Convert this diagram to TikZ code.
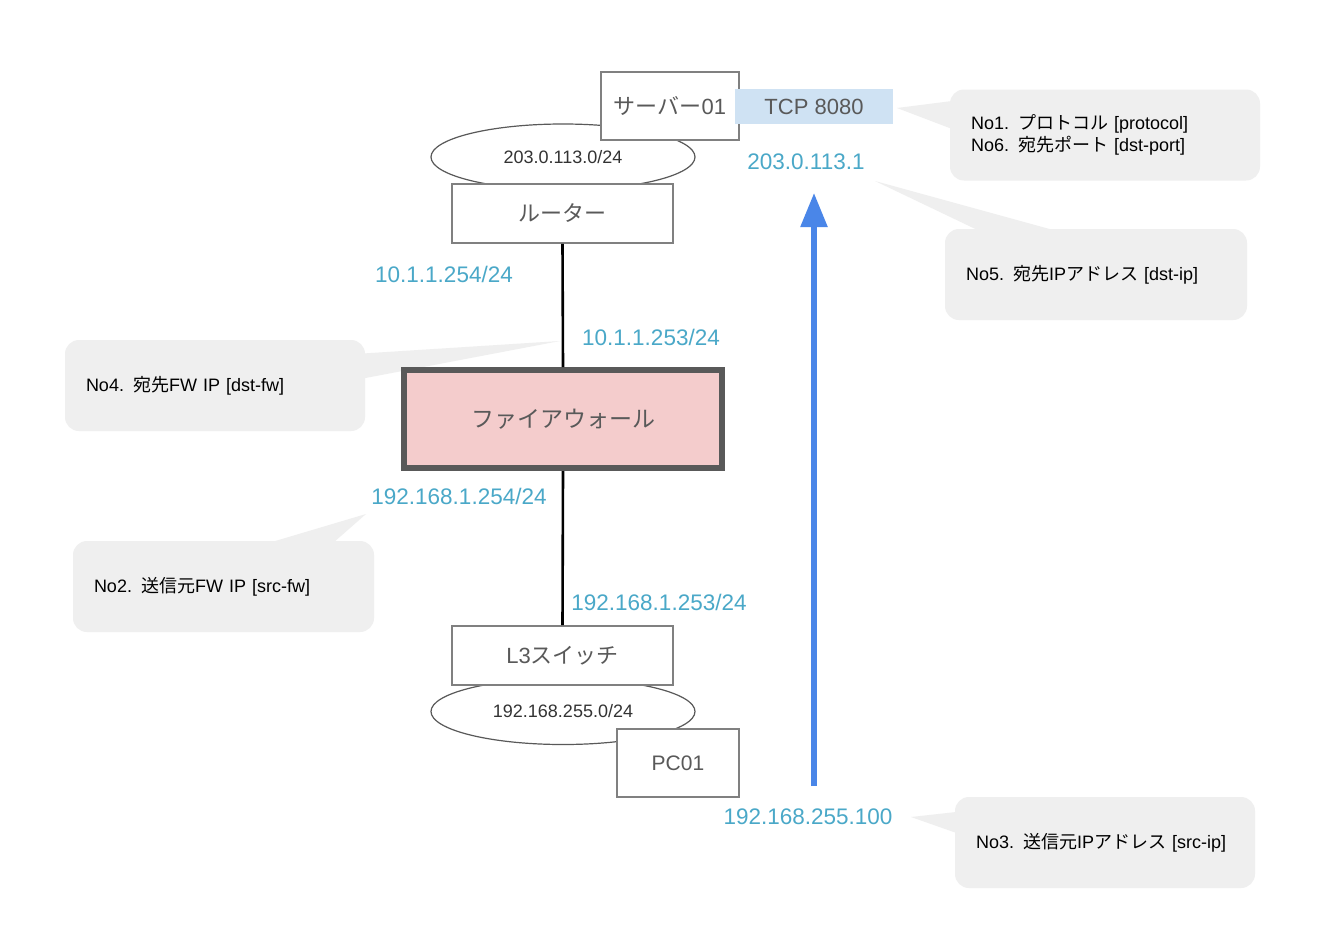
\documentclass[tikz,border=0pt]{standalone}
\usepackage{fontspec}
\setmainfont{Liberation Sans}
\newfontfamily\cjk{Noto Sans CJK JP}
\usetikzlibrary{arrows.meta,shapes.geometric}
\definecolor{lblue}{RGB}{74,168,200}
\definecolor{boxgray}{RGB}{128,128,128}
\definecolor{txtgray}{RGB}{89,89,89}
\definecolor{calgray}{RGB}{239,239,239}
\definecolor{tcpblue}{RGB}{207,226,243}
\definecolor{fwpink}{RGB}{244,204,204}
\definecolor{fwborder}{RGB}{89,89,89}
\definecolor{arrblue}{RGB}{74,134,232}
\begin{document}
\begin{tikzpicture}[x=1pt,y=-1pt,
  box/.style={draw=boxgray, line width=1.8pt, fill=white, inner sep=0pt, text=txtgray, font=\fontsize{22}{26}\selectfont},
  net/.style={ellipse, draw=txtgray, line width=1.2pt, fill=white, inner sep=0pt, minimum width=264pt, minimum height=66pt, text=black!80, font=\fontsize{18}{22}\selectfont},
  iplabel/.style={text=lblue, inner sep=0pt, font=\fontsize{22.5}{26}\selectfont},
  callout/.style={fill=calgray, rounded corners=14pt, inner xsep=21pt, inner ysep=0pt, align=left, minimum height=91pt, font=\fontsize{18}{22}\selectfont, text=black},
  tail/.style={fill=calgray},
  link/.style={draw=black, line width=2.6pt},
  flow/.style={draw=arrblue, line width=5.5pt, -{Triangle[width=26pt,length=34pt]}}]
\useasboundingbox (0,0) rectangle (1344,937);
\fill[white] (0,0) rectangle (1344,937);

% callout tails
\fill[tail] (897,108) -- (960,100) -- (960,132) -- cycle;
\fill[tail] (875,181) -- (990,236) -- (1075,236) -- cycle;
\fill[tail] (560,341) -- (355,354) -- (355,380) -- cycle;
\fill[tail] (366,514) -- (245,550) -- (325,550) -- cycle;
\fill[tail] (911,817) -- (965,811) -- (965,836) -- cycle;

% callouts
\node[callout, text width=268pt] (c1) at (1105,135) {No1. {\cjk プロトコル} [protocol]\\No6. {\cjk 宛先ポート} [dst-port]};
\node[callout, text width=260pt] (c5) at (1096,274.5) {No5. {\cjk 宛先}IP{\cjk アドレス} [dst-ip]};
\node[callout, text width=258pt] (c4) at (215,385.5) {No4. {\cjk 宛先}FW IP [dst-fw]};
\node[callout, text width=259pt] (c2) at (223.5,586.5) {No2. {\cjk 送信元}FW IP [src-fw]};
\node[callout, text width=258pt] (c3) at (1105,842.5) {No3. {\cjk 送信元}IP{\cjk アドレス} [src-ip]};

% top part
\node[net] (n1) at (563,157) {203.0.113.0/24};
\node[box, minimum width=138pt, minimum height=68pt] (srv) at (670,106) {{\cjk サーバー}01};
\node[fill=tcpblue, inner sep=0pt, minimum width=158pt, minimum height=35pt, text=txtgray, font=\fontsize{22}{26}\selectfont] (tcp) at (814,106.5) {TCP 8080};
\node[box, minimum width=221pt, minimum height=59pt] (rt) at (562.5,213.5) {\cjk ルーター};

% bottom part
\node[net] (n2) at (563,711.5) {192.168.255.0/24};
\node[box, minimum width=221pt, minimum height=59pt] (l3) at (562.5,655.5) {L3{\cjk スイッチ}};
\node[box, minimum width=122pt, minimum height=68pt, font=\fontsize{21}{25}\selectfont] (pc) at (678,763) {PC01};

% firewall
\node[draw=fwborder, line width=6pt, fill=fwpink, inner sep=0pt, minimum width=318pt, minimum height=98pt, text=txtgray, font=\fontsize{23}{27}\selectfont\cjk] (fw) at (563,419) {ファイアウォール};

% links
\draw[link] (rt.south) -- (fw.north);
\draw[link] (fw.south) -- (l3.north);

% flow arrow
\coordinate (fs) at (814,786);
\coordinate (fe) at (814,193);
\draw[flow] (fs) -- (fe);

% ip labels
\node[iplabel] (ip1) at (806,162) {203.0.113.1};
\node[iplabel] (ip2) at (444,274) {10.1.1.254/24};
\node[iplabel] (ip3) at (651,337) {10.1.1.253/24};
\node[iplabel] (ip4) at (459,496) {192.168.1.254/24};
\node[iplabel] (ip5) at (659,602) {192.168.1.253/24};
\node[iplabel] (ip6) at (808,817) {192.168.255.100};
\end{tikzpicture}
\end{document}
